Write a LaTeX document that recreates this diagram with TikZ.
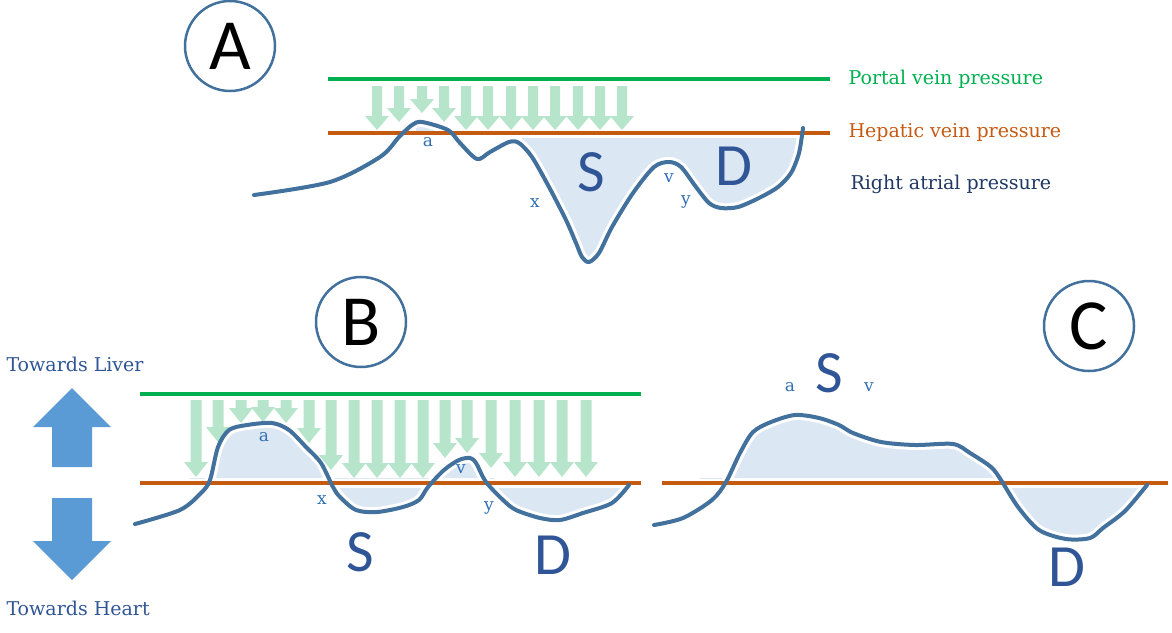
\documentclass[tikz,border=0pt]{standalone}
\usepackage{fontspec}
\newfontfamily\calibri{Carlito}
\newfontfamily\legendserif{DejaVu Serif}
\usepackage{tikz}
\usetikzlibrary{calc}
\definecolor{portalgreen}{RGB}{0,176,80}
\definecolor{hepaticorange}{RGB}{197,90,17}
\definecolor{curveblue}{RGB}{65,113,156}
\definecolor{fillblue}{RGB}{220,231,244}
\definecolor{flowgreen}{RGB}{182,229,203}
\definecolor{labelblue}{RGB}{46,110,180}
\definecolor{wavenavy}{RGB}{47,85,151}
\definecolor{atrialnavy}{RGB}{31,56,100}
\definecolor{bigblue}{RGB}{91,155,213}

\newcommand{\panelfont}{\calibri\fontsize{72}{80}\selectfont}
\newcommand{\wavefont}{\calibri\fontsize{60}{66}\selectfont}
\newcommand{\legendfont}{\legendserif\fontsize{19}{22}\selectfont}
\newcommand{\smallfont}{\legendserif\fontsize{17}{20}\selectfont}

% pressure traces
\newcommand{\curveA}{plot[smooth, tension=0.5] coordinates {(254,195) (330,182) (380,157) (399,137)
  (412,125) (422,122) (448,130) (460,143) (477,159) (490,152) (509,142) (519,143) (532,157)
  (549,187) (566,220) (576,243) (582,257) (589,262) (599,253) (612,227) (633,193) (654,167)
  (669,162) (681,167) (696,187) (709,203) (721,208) (738,207) (759,198) (778,187) (791,173)
  (799,153) (803,128)}}
\newcommand{\curveB}{plot[smooth, tension=0.5] coordinates {(135,524) (180,510) (201,493) (210,480)
  (218,447) (229,430) (247,425) (272,423) (289,430) (306,447) (321,463) (333,487) (340,497)
  (356,510) (377,512) (403,507) (419,500) (428,487) (444,470) (459,460) (470,458) (476,463)
  (486,482) (503,500) (516,510) (540,518) (560,520) (583,513) (612,503) (629,485)}}
\newcommand{\curveC}{plot[smooth, tension=0.5] coordinates {(654,525) (683,518) (712,500) (726,482)
  (740,453) (753,432) (771,422) (795,415) (819,418) (839,425) (853,433) (881,442) (915,445)
  (953,444) (970,453) (991,467) (1001,480) (1018,507) (1039,530) (1066,539) (1090,538)
  (1103,528) (1125,511) (1147,485)}}

\begin{document}
\begin{tikzpicture}[x=1pt, y=-1pt,
    panel/.style={circle, draw=curveblue, line width=2.5pt, fill=white, minimum size=90pt,
      inner sep=0pt, font=\panelfont, text=black},
    portal/.style={portalgreen, line width=4pt},
    hepatic/.style={hepaticorange, line width=4pt},
    trace/.style={curveblue, line width=4pt, line cap=round, line join=round},
    halo/.style={white, line width=10pt, line cap=round, line join=round},
    wavefill/.style={fill=fillblue},
    flow/.style={fill=flowgreen},
    wave/.style={font=\wavefont, text=wavenavy, inner sep=0pt},
    point/.style={font=\smallfont, text=labelblue, inner sep=0pt}]
  \useasboundingbox (0,0) rectangle (1172,632);

  % Panel A
  \begin{scope}
    \clip (522,138) rectangle (806,300);
    \fill[wavefill] \curveA -- (803,138) -- (254,138) -- cycle;
  \end{scope}
  \begin{scope}
    \clip (416,110) rectangle (434,131);
    \fill[wavefill] \curveA -- (803,131) -- (254,131) -- cycle;
  \end{scope}
  \draw[halo] \curveA;
  \foreach \x/\tip in {377/130, 399/122, 422/113, 444/122, 466/130, 488/130,
                       511/130, 533/130, 555/130, 578/130, 600/130, 622/130}
    \fill[flow] (\x-5,86) -- (\x+5,86) -- (\x+5,\tip-14) -- (\x+12,\tip-14) -- (\x,\tip)
      -- (\x-12,\tip-14) -- (\x-5,\tip-14) -- cycle;
  \draw[portal] (328,79) -- (830,79);
  \draw[hepatic] (328,133) -- (830,133);
  \draw[trace] \curveA;
  \node[panel] (panA) at (230,46) {A};
  \node[point] (aA) at (428,142) {a};
  \node[point] (xA) at (535,203) {x};
  \node[point] (vA) at (669,178) {v};
  \node[point] (yA) at (686,202) {y};
  \node[wave] (sA) at (591,172) {S};
  \node[wave] (dA) at (734,166) {D};
  \node[font=\legendfont, text=portalgreen, anchor=west] (portalTxt) at (845,79) {Portal vein pressure};
  \node[font=\legendfont, text=hepaticorange, anchor=west] (hepaticTxt) at (845,132) {Hepatic vein pressure};
  \node[font=\legendfont, text=atrialnavy, anchor=west] (atrialTxt) at (847,184) {Right atrial pressure};

  % Panel B
  \begin{scope}
    \clip (190,300) rectangle (495,478);
    \fill[wavefill] \curveB -- (629,478) -- (135,478) -- cycle;
  \end{scope}
  \begin{scope}
    \clip (300,488) rectangle (635,600);
    \fill[wavefill] \curveB -- (629,488) -- (135,488) -- cycle;
  \end{scope}
  \draw[halo] \curveB;
  \foreach \x/\tip in {196/477, 218/442, 241/423, 263/422, 286/423, 309/443, 331/470,
                       354/478, 377/478, 400/478, 423/478, 445/458, 467/453, 491/468,
                       515/477, 539/477, 562/477, 586/477}
    \fill[flow] (\x-5.5,400) -- (\x+5.5,400) -- (\x+5.5,\tip-15) -- (\x+12,\tip-15) -- (\x,\tip)
      -- (\x-12,\tip-15) -- (\x-5.5,\tip-15) -- cycle;
  \draw[portal] (140,394) -- (641,394);
  \draw[hepatic] (140,483) -- (641,483);
  \draw[trace] \curveB;
  \node[panel] (panB) at (361,322) {B};
  \node[point] (aB) at (264,437) {a};
  \node[point] (xB) at (322,500) {x};
  \node[point] (vB) at (461,469) {v};
  \node[point] (yB) at (489,508) {y};
  \node[wave] (sB) at (360,552) {S};
  \node[wave] (dB) at (553,555) {D};

  % Direction of flow
  \fill[bigblue] (52,467) -- (52,427) -- (33,427) -- (72,388) -- (111,427) -- (92,427) -- (92,467) -- cycle;
  \fill[bigblue] (52,498) -- (92,498) -- (92,541) -- (111,541) -- (72,580) -- (33,541) -- (52,541) -- cycle;
  \node[font=\legendfont, text=wavenavy, anchor=west] (liverTxt) at (3,364) {Towards Liver};
  \node[font=\legendfont, text=wavenavy, anchor=west] (heartTxt) at (3,608) {Towards Heart};

  % Panel C
  \begin{scope}
    \clip (700,300) rectangle (1005,478);
    \fill[wavefill] \curveC -- (1147,478) -- (654,478) -- cycle;
  \end{scope}
  \begin{scope}
    \clip (1003,488) rectangle (1160,600);
    \fill[wavefill] \curveC -- (1147,488) -- (654,488) -- cycle;
  \end{scope}
  \draw[halo] \curveC;
  \draw[hepatic] (662,483) -- (1168,483);
  \draw[trace] \curveC;
  \node[panel] (panC) at (1089,326) {C};
  \node[point] (aC) at (790,387) {a};
  \node[wave] (sC) at (829,373) {S};
  \node[point] (vC) at (869,387) {v};
  \node[wave] (dC) at (1067,567) {D};
\end{tikzpicture}
\end{document}
